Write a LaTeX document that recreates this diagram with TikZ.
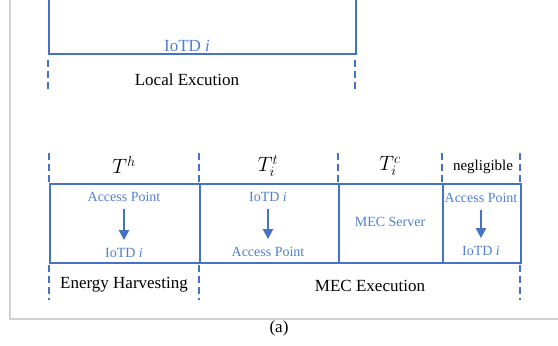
\documentclass[tikz,border=0pt]{standalone}
\usepackage{fontspec}
\setmainfont{Liberation Serif}
\usetikzlibrary{arrows.meta}
\definecolor{lineblue}{HTML}{4472C4}
\definecolor{textblue}{HTML}{4F7FD6}
\definecolor{framegray}{HTML}{D0D0D0}
\begin{document}
\begin{tikzpicture}[x=1pt,y=-1pt,
  cell/.style={draw=lineblue,line width=2.3pt,inner sep=0pt,anchor=north west,minimum height=79pt},
  dashv/.style={draw=lineblue,line width=2.2pt,dash pattern=on 7pt off 4pt},
  bl/.style={text=textblue,font=\fontsize{14}{16}\selectfont,inner sep=1pt},
  lbl/.style={font=\fontsize{17}{20}\selectfont,inner sep=0pt},
  mth/.style={font=\fontsize{20.74}{24}\selectfont,inner sep=0pt},
  arr/.style={draw=lineblue,line width=2.2pt,-{Triangle[length=10pt,width=10pt]},shorten <=6pt,shorten >=7pt}]
\useasboundingbox (0,0) rectangle (558,346);
% gray frame
\coordinate (fa) at (10,-2);
\coordinate (fb) at (10,319);
\coordinate (fc) at (560,319);
\draw[framegray,line width=1.2pt] (fa) -- (fb) -- (fc);

% top: local execution
\node[cell,minimum width=307pt,minimum height=70pt] (loc) at (48,-17) {};
\node[bl,font=\fontsize{17}{20}\selectfont] (locd) at (187,46) {IoTD \textit{i}};
\coordinate (l1a) at (48,60);  \coordinate (l1b) at (48,92);
\coordinate (l2a) at (355,60); \coordinate (l2b) at (355,92);
\draw[dashv] (l1a) -- (l1b);
\draw[dashv] (l2a) -- (l2b);
\node[lbl] (loclab) at (187,80) {Local Excution};

% bottom cells
\node[cell,minimum width=150pt] (c1) at (49,183) {};
\node[cell,minimum width=139pt] (c2) at (199,183) {};
\node[cell,minimum width=104pt] (c3) at (338,183) {};
\node[cell,minimum width=78pt]  (c4) at (442,183) {};

% top dashed separators
\foreach \x/\n in {49/a,199/b,338/c,442/d,520/e}{
  \coordinate (t\n1) at (\x,153);
  \coordinate (t\n2) at (\x,183);
  \draw[dashv] (t\n1) -- (t\n2);
}
% bottom dashed separators
\foreach \x/\n in {49/a,199/b,520/e}{
  \coordinate (b\n1) at (\x,265);
  \coordinate (b\n2) at (\x,300);
  \draw[dashv] (b\n1) -- (b\n2);
}

% time labels
\node[mth] (th) at (124,165) {$T^h$};
\node[mth] (tt) at (268,166) {$T_i^t$};
\node[mth] (tc) at (390,166) {$T_i^c$};
\node[lbl,font=\fontsize{15}{18}\selectfont] (tn) at (483,167) {negligible};

% cell contents
\node[bl] (ap1) at (124,197) {Access Point};
\node[bl] (io1) at (124,253) {IoTD \textit{i}};
\draw[arr] (ap1.south) -- (io1.north);

\node[bl] (io2) at (268,197) {IoTD \textit{i}};
\node[bl] (ap2) at (268,252) {Access Point};
\draw[arr] (io2.south) -- (ap2.north);

\node[bl] (mec) at (390,222) {MEC Server};

\node[bl] (ap4) at (481,198) {Access Point};
\node[bl] (io4) at (481,251) {IoTD \textit{i}};
\draw[arr] (ap4.south) -- (io4.north);

% phase labels
\node[lbl] (eh) at (124,285) {Energy Harvesting};
\node[lbl] (me) at (370,286) {MEC Execution};

% caption
\node[lbl] (cap) at (279,328) {(a)};
\end{tikzpicture}
\end{document}
